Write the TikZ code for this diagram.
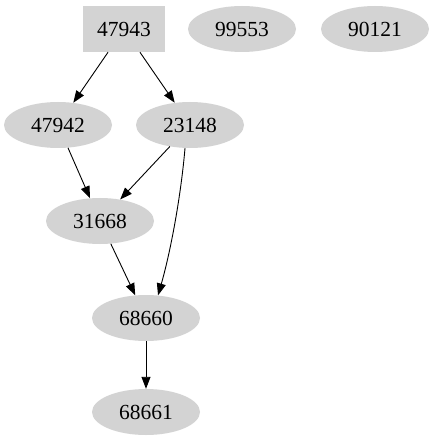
\documentclass[tikz,border=0pt]{standalone}
\usepackage{fontspec}
\setmainfont{Liberation Serif}
\usetikzlibrary{shapes.geometric,arrows.meta}
\definecolor{gvgray}{HTML}{D3D3D3}
\tikzset{
  ell/.style={ellipse, fill=gvgray, draw=none, minimum width=108pt, minimum height=46pt, inner sep=0pt, font=\fontsize{21.5}{25}\selectfont},
  boxn/.style={rectangle, fill=gvgray, draw=none, minimum width=82pt, minimum height=46pt, inner sep=0pt, font=\fontsize{21.5}{25}\selectfont},
  edge/.style={draw=black, line width=0.9pt, -{Triangle[length=12pt,width=9pt]}}
}
\begin{document}
\begin{tikzpicture}[x=1pt,y=-1pt]
\useasboundingbox (0,0) rectangle (434,443);
\node[boxn] (n47943) at (124,29) {47943};
\node[ell] (n99553) at (242,29) {99553};
\node[ell] (n90121) at (375,29) {90121};
\node[ell] (n47942) at (58,125) {47942};
\node[ell] (n23148) at (190,125) {23148};
\node[ell] (n31668) at (100,221) {31668};
\node[ell] (n68660) at (146,318) {68660};
\node[ell] (n68661) at (146,412) {68661};
\draw[edge] (n47943) -- (n47942);
\draw[edge] (n47943) -- (n23148);
\draw[edge] (n47942) -- (n31668);
\draw[edge] (n23148) -- (n31668);
\draw[edge] (n23148.south) ++(-5,0) coordinate (s) (s) .. controls (181,195) and (171,250) .. (n68660.62);
\draw[edge] (n31668) -- (n68660);
\draw[edge] (n68660) -- (n68661);
\end{tikzpicture}
\end{document}
